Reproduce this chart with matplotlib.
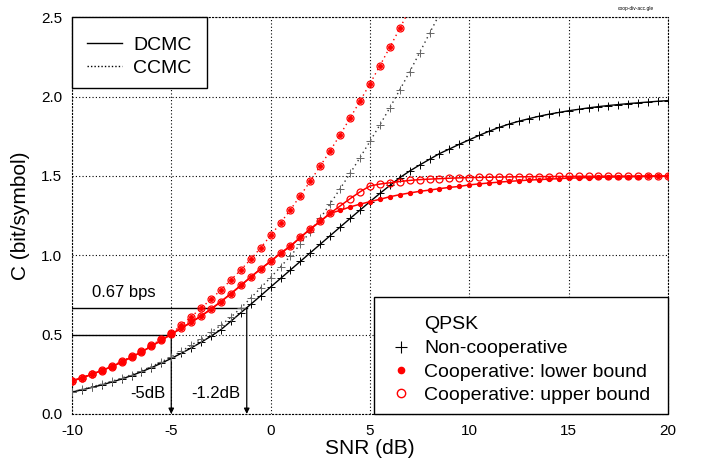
"""
Capacity of non-cooperative vs cooperative QPSK (DCMC / CCMC)
"""

import numpy as np
import matplotlib.pyplot as plt
from matplotlib.lines import Line2D
from matplotlib.patches import Rectangle

plt.rcParams['font.family'] = ['Liberation Sans', 'DejaVu Sans']
plt.rcParams['axes.unicode_minus'] = False

# SNR grid (dB), one point every 0.5 dB
snr = np.arange(-10, 20.5, 0.5)

# non-cooperative QPSK, DCMC (solid, +)
noncoop_dcmc = [
    0.138, 0.152, 0.167, 0.183, 0.201, 0.220, 0.242, 0.266, 0.292, 0.320,
    0.350, 0.382, 0.416, 0.452, 0.490, 0.532, 0.584, 0.638, 0.691, 0.745,
    0.800, 0.854, 0.908, 0.962, 1.016, 1.070, 1.124, 1.178, 1.232, 1.285,
    1.338, 1.390, 1.440, 1.489, 1.531, 1.569, 1.605, 1.641, 1.670, 1.700,
    1.728, 1.756, 1.782, 1.806, 1.827, 1.845, 1.861, 1.876, 1.889, 1.900,
    1.911, 1.920, 1.929, 1.937, 1.944, 1.950, 1.956, 1.961, 1.966, 1.971,
    1.975,
]

# non-cooperative, CCMC (dotted, +), -10 .. 8.5 dB
noncoop_ccmc = [
    0.140, 0.155, 0.171, 0.188, 0.206, 0.226, 0.248, 0.272, 0.299, 0.328,
    0.360, 0.395, 0.433, 0.473, 0.515, 0.560, 0.610, 0.668, 0.730, 0.795,
    0.860, 0.927, 0.996, 1.070, 1.150, 1.234, 1.325, 1.420, 1.516, 1.616,
    1.718, 1.822, 1.930, 2.042, 2.157, 2.277, 2.399, 2.520,
]

# cooperative, CCMC (dotted), lower and upper bound coincide, -10 .. 7 dB
coop_ccmc = [
    0.209, 0.229, 0.252, 0.277, 0.302, 0.331, 0.363, 0.397, 0.434, 0.470,
    0.508, 0.558, 0.612, 0.667, 0.723, 0.782, 0.844, 0.908, 0.975, 1.047,
    1.125, 1.204, 1.288, 1.376, 1.468, 1.563, 1.659, 1.760, 1.865, 1.972,
    2.081, 2.195, 2.311, 2.430, 2.550,
]

# cooperative, DCMC lower bound (solid, filled dots)
coop_dcmc_lower = [
    0.208, 0.227, 0.250, 0.274, 0.298, 0.327, 0.358, 0.391, 0.427, 0.464,
    0.503, 0.540, 0.578, 0.617, 0.661, 0.708, 0.758, 0.810, 0.863, 0.914,
    0.962, 1.013, 1.058, 1.113, 1.166, 1.214, 1.265, 1.283, 1.305, 1.322,
    1.338, 1.353, 1.369, 1.382, 1.393, 1.403, 1.411, 1.420, 1.428, 1.434,
    1.444, 1.450, 1.456, 1.461, 1.466, 1.470, 1.474, 1.477, 1.480, 1.483,
    1.486, 1.488, 1.490, 1.492, 1.493, 1.494, 1.495, 1.496, 1.497, 1.498,
    1.498,
]

# cooperative, DCMC upper bound (solid, open circles)
coop_dcmc_upper = [
    0.208, 0.227, 0.250, 0.274, 0.298, 0.327, 0.358, 0.391, 0.427, 0.464,
    0.503, 0.540, 0.578, 0.617, 0.661, 0.708, 0.758, 0.810, 0.863, 0.914,
    0.962, 1.013, 1.058, 1.113, 1.166, 1.214, 1.265, 1.311, 1.357, 1.400,
    1.437, 1.449, 1.457, 1.465, 1.472, 1.477, 1.480, 1.483, 1.486, 1.488,
    1.490, 1.491, 1.492, 1.493, 1.494, 1.495, 1.495, 1.496, 1.496, 1.497,
    1.497, 1.498, 1.498, 1.498, 1.499, 1.499, 1.499, 1.499, 1.500, 1.500,
    1.500,
]

# annotated operating points
annot_snr = [-5.0, -1.2]
annot_rate = [0.5, 0.67]
annot_labels = ['-5dB', '-1.2dB']

x_ticks = [-10, -5, 0, 5, 10, 15, 20]
y_ticks = [0.0, 0.5, 1.0, 1.5, 2.0, 2.5]

RED = '#ff0000'
dotted = (0, (1, 2.5))

fig = plt.figure(figsize=(7.05, 4.61), dpi=100)
ax = fig.add_axes([0.102, 0.102, 0.8455, 0.8605])

# non-cooperative
ax.plot(snr, noncoop_dcmc, color='black', lw=1.0, marker='+', ms=5.5, mew=0.7, zorder=3)
ax.plot(snr[:len(noncoop_ccmc)], noncoop_ccmc, color='#333333', lw=1.0, ls=dotted,
        marker='+', ms=5.5, mew=0.7, mec='#666666', zorder=3)

# cooperative
ax.plot(snr[:len(coop_ccmc)], coop_ccmc, color=RED, lw=1.0, ls=dotted,
        marker='o', ms=5, mfc='none', mec=RED, mew=0.9, zorder=4)
ax.plot(snr[:len(coop_ccmc)], coop_ccmc, ls='none',
        marker='o', ms=2.6, mfc=RED, mec=RED, zorder=4)
ax.plot(snr, coop_dcmc_upper, color=RED, lw=1.1,
        marker='o', ms=5, mfc='none', mec=RED, mew=0.9, zorder=4)
ax.plot(snr, coop_dcmc_lower, color=RED, lw=1.1,
        marker='o', ms=2.8, mfc=RED, mec=RED, zorder=4)

# operating point annotations
for s, r, lab in zip(annot_snr, annot_rate, annot_labels):
    ax.plot([-10, s], [r, r], color='black', lw=1.0, zorder=2)
    ax.annotate('', xy=(s, 0), xytext=(s, r),
                arrowprops=dict(arrowstyle='-|>', color='black', lw=0.9,
                                mutation_scale=8, shrinkA=0, shrinkB=0),
                zorder=2)
    ax.text(s - 0.3, 0.13, lab, ha='right', va='center', fontsize=12)
ax.text(-9.0, 0.72, '0.67 bps', ha='left', va='bottom', fontsize=12)

ax.set_xlim(-10, 20)
ax.set_ylim(0, 2.5)
ax.set_xticks(x_ticks)
ax.set_yticks(y_ticks)
ax.set_yticklabels([f'{v:.1f}' for v in y_ticks])
ax.tick_params(length=0, labelsize=11)
ax.tick_params(axis='x', pad=7)
ax.tick_params(axis='y', pad=7)
ax.grid(True, color='black', lw=0.8, ls=(0, (1, 2)))
for sp in ax.spines.values():
    sp.set_linestyle((0, (1, 2)))
    sp.set_linewidth(0.8)

ax.set_xlabel('SNR (dB)', fontsize=15, labelpad=1)
ax.set_ylabel('C (bit/symbol)', fontsize=15, labelpad=8)

tr = ax.transAxes

# key for line styles (top left box)
ax.add_patch(Rectangle((0, 0.821), 0.2265, 0.179, transform=tr, facecolor='white',
                       edgecolor='black', lw=1.0, zorder=6, clip_on=False))
for y, ls, lab in [(0.9345, '-', 'DCMC'), (0.8765, (0, (1, 1.5)), 'CCMC')]:
    ax.add_line(Line2D([0.0252, 0.0839], [y, y], transform=tr, color='black',
                       lw=1.0, ls=ls, zorder=7, clip_on=False))
    ax.text(0.1023, y, lab, transform=tr, fontsize=14, ha='left',
            va='center_baseline', zorder=7)

# key for markers (bottom right box)
ax.add_patch(Rectangle((0.5067, 0), 0.4933, 0.294, transform=tr, facecolor='white',
                       edgecolor='black', lw=1.0, zorder=6, clip_on=False))
key_rows = [0.231, 0.1695, 0.1108, 0.0521]
key_labels = ['QPSK', 'Non-cooperative', 'Cooperative: lower bound',
              'Cooperative: upper bound']
key_styles = [None,
              dict(marker='+', ms=9, mew=0.8, color='black'),
              dict(marker='o', ms=4.5, mfc=RED, mec=RED),
              dict(marker='o', ms=6, mfc='white', mec=RED, mew=1.0)]
for y, lab, st in zip(key_rows, key_labels, key_styles):
    if st is not None:
        ax.add_line(Line2D([0.552], [y], transform=tr, ls='none', zorder=7,
                           clip_on=False, **st))
    ax.text(0.591, y, lab, transform=tr, fontsize=14, ha='left',
            va='center_baseline', zorder=7)

fig.text(0.902, 0.988, 'coop-div-acc.gle', fontsize=3.5, ha='center', va='top')

fig.savefig('out.png', dpi=100)
